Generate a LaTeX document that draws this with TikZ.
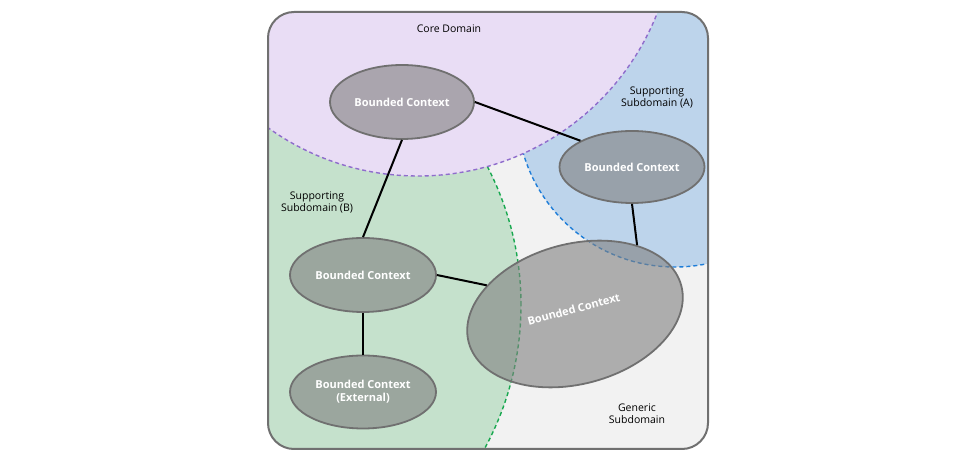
\documentclass[tikz,border=0pt]{standalone}
\usepackage{fontspec}
\setmainfont{Open Sans}
\usetikzlibrary{shapes.geometric}

\definecolor{coreFill}{HTML}{E9DDF5}
\definecolor{coreLine}{HTML}{8F6DCC}
\definecolor{suppAFill}{HTML}{BDD4EB}
\definecolor{suppALine}{HTML}{1E7DD8}
\definecolor{suppBFill}{HTML}{C5E1CC}
\definecolor{suppBLine}{HTML}{17A84F}
\definecolor{genericFill}{HTML}{F2F2F2}
\definecolor{frameLine}{HTML}{707070}
\definecolor{ctxFill}{HTML}{808080}

\begin{document}
\begin{tikzpicture}[x=10pt, y=10pt,
    context/.style={ellipse, draw=frameLine, line width=1.8pt, fill=ctxFill, fill opacity=0.6,
      text opacity=1, text=white, font=\fontsize{11}{13}\selectfont\bfseries, align=center, inner sep=0pt},
    areaname/.style={font=\fontsize{10.5}{12}\selectfont, align=center},
    areaborder/.style={dashed, line width=1.4pt, dash pattern=on 4pt off 3pt},
    link/.style={line width=2pt}]
      \useasboundingbox (0.00, 0.00) rectangle (97.50, 46.30);

      \fill[genericFill, rounded corners=26pt] (26.80, 1.40) rectangle (70.80, 45.10);
      \begin{scope}
        \clip[rounded corners=26pt] (26.80, 1.40) rectangle (70.80, 45.10);
        \fill[suppBFill] (22.00,15.80) circle (301pt);
        \draw[areaborder, suppBLine] (22.00,15.80) circle (301pt);
        \fill[suppAFill] (67.50,35.40) circle (158pt);
        \draw[areaborder, suppALine] (67.50,35.40) circle (158pt);
        \fill[coreFill] (41.80,54.40) circle (257pt);
        \draw[areaborder, coreLine] (41.80,54.40) circle (257pt);
      \end{scope}
      \draw[frameLine, line width=2pt, rounded corners=26pt] (26.80, 1.40) rectangle (70.80, 45.10);

      \node[areaname](coreLabel) at (44.90, 43.40){Core Domain};
      \node[areaname](suppALabel) at (65.70, 36.60){Supporting\\Subdomain (A)};
      \node[areaname](suppBLabel) at (31.70, 26.10){Supporting\\Subdomain (B)};
      \node[areaname](genericLabel) at (63.70, 4.90){Generic\\Subdomain};

      \node[context, minimum width=144pt, minimum height=74pt](core) at (40.20, 36.10){Bounded Context};
      \node[context, minimum width=145pt, minimum height=72pt](suppA) at (63.20, 29.60){Bounded Context};
      \node[context, minimum width=146pt, minimum height=74pt](suppB) at (36.30, 18.80){Bounded Context};
      \node[context, minimum width=146pt, minimum height=73pt](ext) at (36.30, 7.10){Bounded Context\\(External)};
      \node[context, minimum width=220pt, minimum height=140pt, rotate=15](generic) at (57.50, 14.90){\raisebox{10pt}{Bounded Context}};

      \draw[link] (core.east) -- (suppA.153);
      \draw[link] (core.south) -- (suppB.north);
      \draw[link] (suppA.south) -- (generic.33);
      \draw[link] (suppB.east) -- (generic.147);
      \draw[link] (suppB.south) -- (ext.north);
\end{tikzpicture}
\end{document}
